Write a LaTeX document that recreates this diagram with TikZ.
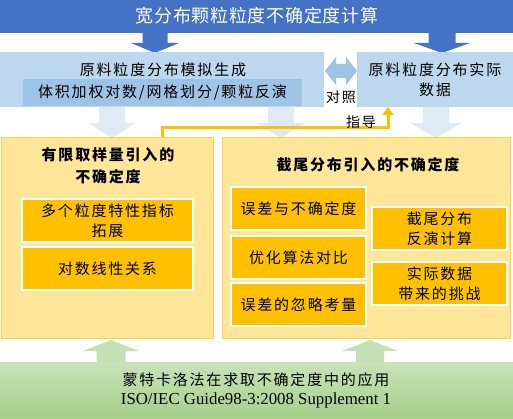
\documentclass[tikz,border=0pt]{standalone}
\usepackage{fontspec}
\setmainfont{Liberation Serif}
\newfontfamily\cjk[LetterSpace=12]{Noto Sans CJK SC}
\newfontfamily\cjkT[LetterSpace=4]{Noto Sans CJK SC}
\usetikzlibrary{arrows.meta}
\definecolor{bannerblue}{HTML}{4472C4}
\definecolor{paleblue}{HTML}{BDD7EE}
\definecolor{midblue}{HTML}{9DC3E6}
\definecolor{lightarrow}{HTML}{DEEBF7}
\definecolor{softyellow}{HTML}{FFE699}
\definecolor{edgeyellow}{HTML}{FFD34D}
\definecolor{orangefill}{HTML}{FFC000}
\definecolor{greenarrow}{HTML}{C5E0B4}
\definecolor{greentop}{HTML}{C9E3B9}
\definecolor{greenbot}{HTML}{A5CF88}
\newcommand{\arrowdown}[7]{% color, cx, shaft half, head half, ytop, yheadbase, ytip
  \fill[#1] (#2-#3,#5) -- (#2-#3,#6) -- (#2-#4,#6) -- (#2,#7) -- (#2+#4,#6) -- (#2+#3,#6) -- (#2+#3,#5) -- cycle;}
\newcommand{\arrowup}[7]{% color, cx, shaft half, head half, ybottom, yheadbase, ytip
  \fill[#1] (#2-#3,#5) -- (#2-#3,#6) -- (#2-#4,#6) -- (#2,#7) -- (#2+#4,#6) -- (#2+#3,#6) -- (#2+#3,#5) -- cycle;}
\begin{document}
\begin{tikzpicture}[x=1pt,y=-1pt,
  blk/.style={inner sep=0pt, outer sep=0pt, anchor=north west},
  txt/.style={font=\cjk\fontsize{15}{20}\selectfont, align=center, inner sep=0pt},
  ttl/.style={font=\cjk\bfseries\fontsize{15}{22}\selectfont, align=center, inner sep=0pt},
  ybox/.style={blk, fill=softyellow, draw=edgeyellow, line width=0.8pt},
  obox/.style={blk, fill=orangefill, draw=white, line width=1.3pt, txt},
  conn/.style={draw=orangefill, line width=3pt}
]
\useasboundingbox (0,0) rectangle (513,419);
% banner
\node[blk, fill=bannerblue, minimum width=513pt, minimum height=33pt] (banner) at (0,0) {};
\node[font=\cjkT\fontsize{18}{20}\selectfont, text=white, inner sep=0pt] (bannertxt) at (257,16) {宽分布颗粒粒度不确定度计算};
% blue arrows
\arrowdown{bannerblue}{155}{12.5}{24}{32}{43}{53}
\arrowdown{bannerblue}{442}{13.5}{28}{32}{43}{53}
% light blue boxes
\node[blk, fill=paleblue, minimum width=324pt, minimum height=55pt] (sim) at (0,52) {};
\node[txt] (simtxt) at (163,70) {原料粒度分布模拟生成};
\node[blk, fill=midblue, minimum width=279pt, minimum height=27pt, txt] (method) at (23,79) {体积加权对数/网格划分/颗粒反演};
\node[blk, fill=paleblue, minimum width=156pt, minimum height=55pt, txt] (real) at (357,52) {原料粒度分布实际\\数据};
% double arrow
\fill[midblue] (325,71) -- (336,57) -- (336,64) -- (346,64) -- (346,57) -- (357,71) -- (346,85) -- (346,78) -- (336,78) -- (336,85) -- cycle;
\node[font=\cjk\fontsize{14}{16}\selectfont, inner sep=0pt] (duizhao) at (341,97) {对照};
% pale arrows
\arrowdown{lightarrow}{112}{13}{24}{107}{123}{138}
\arrowdown{lightarrow}{281}{13}{24}{107}{123}{138}
\arrowdown{lightarrow}{436}{13}{26}{107}{123}{138}
% yellow boxes
\node[ybox, minimum width=212pt, minimum height=201pt] (left) at (1,137) {};
\node[ybox, minimum width=288pt, minimum height=201pt] (right) at (222,137) {};
\node[ttl] (lefttitle) at (108,166) {有限取样量引入的\\不确定度};
\node[ttl] (righttitle) at (368,165) {截尾分布引入的不确定度};
% inner orange boxes, left
\node[obox, minimum width=171pt, minimum height=43pt] (multi) at (22,199) {多个粒度特性指标\\拓展};
\node[obox, minimum width=171pt, minimum height=43pt] (loglin) at (22,247) {对数线性关系};
% inner orange boxes, right
\node[obox, minimum width=135pt, minimum height=43pt] (err) at (231,187) {误差与不确定度};
\node[obox, minimum width=135pt, minimum height=43pt] (opt) at (231,236) {优化算法对比};
\node[obox, minimum width=135pt, minimum height=43pt] (ign) at (231,283) {误差的忽略考量};
\node[obox, minimum width=135pt, minimum height=43pt] (trunc) at (372,207) {截尾分布\\反演计算};
\node[obox, minimum width=135pt, minimum height=43pt] (chal) at (372,262) {实际数据\\带来的挑战};
% guidance connector
\coordinate (bend) at (162,128);
\draw[conn, -{Triangle[length=8pt,width=11pt]}] ([xshift=55pt]left.north) -- (bend) -| ([xshift=-47pt]real.south);
\node[font=\cjk\fontsize{14}{16}\selectfont, inner sep=0pt] (zhidao) at (361,122) {指导};
% green arrows
\arrowup{greenarrow}{111}{14.5}{28}{363}{351}{340}
\arrowup{greenarrow}{370}{14}{28}{363}{351}{340}
% bottom green box
\node[blk, top color=greentop, bottom color=greenbot, minimum width=513pt, minimum height=57pt] (mc) at (0,362) {};
\node[txt] (mctxt) at (256,380) {蒙特卡洛法在求取不确定度中的应用};
\node[font=\fontsize{16.8}{18}\selectfont, inner sep=0pt] (iso) at (256,400) {ISO/IEC Guide98-3:2008 Supplement 1};
\end{tikzpicture}
\end{document}
